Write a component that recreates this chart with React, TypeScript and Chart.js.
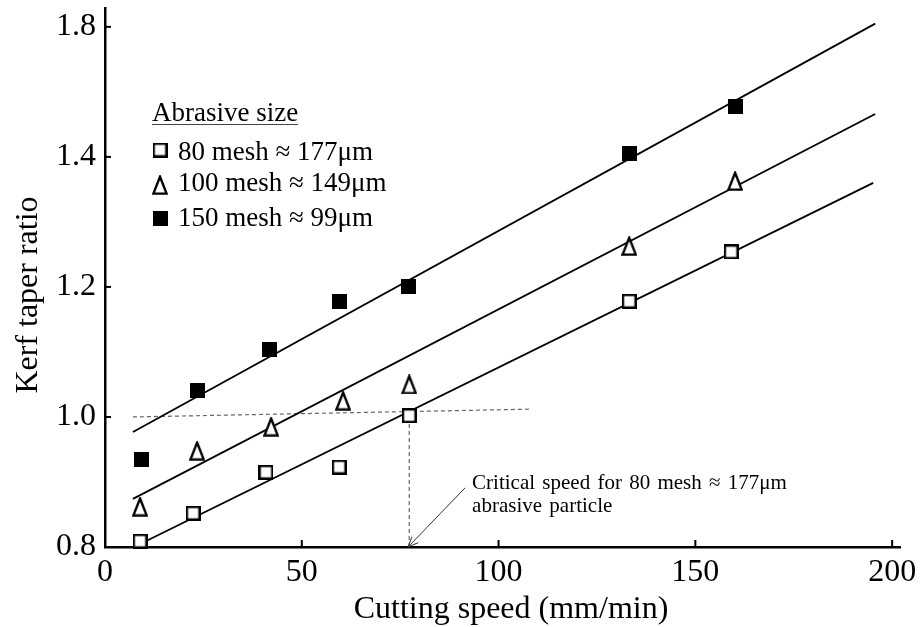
import React, { useEffect, useRef } from "react";
import { Chart, registerables } from "chart.js";

Chart.register(...registerables);

const FONT = "'Liberation Serif', 'Times New Roman', Times, serif";

// ---- data ----
const seriesLabels = ["80 mesh \u2248 177\u03bcm", "100 mesh \u2248 149\u03bcm", "150 mesh \u2248 99\u03bcm"];
const legendTitle = "Abrasive size";

const speed80 = [8.9, 22.4, 40.9, 59.5, 77.3, 133.2, 159.1];
const taper80 = [0.809, 0.852, 0.915, 0.923, 1.002, 1.178, 1.254];
const speed100 = [8.9, 23.4, 42.2, 60.5, 77.3, 133.2, 160.1];
const taper100 = [0.862, 0.948, 0.985, 1.025, 1.05, 1.263, 1.363];
const speed150 = [9.4, 23.4, 41.9, 59.5, 77.0, 133.2, 160.1];
const taper150 = [0.935, 1.04, 1.103, 1.178, 1.2, 1.405, 1.477];

const fit80X = [8.4, 195.2];
const fit80Y = [0.803, 1.36];
const fit100X = [7.1, 195.7];
const fit100Y = [0.874, 1.466];
const fit150X = [7.1, 195.7];
const fit150Y = [0.977, 1.605];

const refLineX = [7.1, 108];
const refLineY = [1.0, 1.012];
const criticalX = [77.3, 77.3];
const criticalY = [1.0, 0.8];
const arrowX = [91.5, 77.0];
const arrowY = [0.891, 0.8];
const noteLines = ["Critical speed for 80 mesh \u2248 177\u03bcm", "abrasive particle"];

const xTickValues = [0, 50, 100, 150, 200];
const xTickLabels = ["0", "50", "100", "150", "200"];
const yTickValues = [0.8, 1.0, 1.2, 1.4, 1.6];
const yTickLabels = ["0.8", "1.0", "1.2", "1.4", "1.8"];
const xTitle = "Cutting speed (mm/min)";
const yTitle = "Kerf taper ratio";

const zip = (xs: number[], ys: number[]) => xs.map((x, i) => ({ x, y: ys[i] }));

function makeMarker(kind: "open" | "filled" | "triangle"): HTMLCanvasElement {
  const c = document.createElement("canvas");
  if (kind === "triangle") {
    c.width = 16;
    c.height = 20;
    const g = c.getContext("2d")!;
    g.beginPath();
    g.moveTo(8, 1.8);
    g.lineTo(14.6, 18.6);
    g.lineTo(1.4, 18.6);
    g.closePath();
    g.fillStyle = "#fff";
    g.fill();
    g.lineWidth = 2.4;
    g.lineJoin = "miter";
    g.strokeStyle = "#000";
    g.stroke();
  } else if (kind === "open") {
    c.width = 15;
    c.height = 15;
    const g = c.getContext("2d")!;
    g.fillStyle = "#fff";
    g.fillRect(1, 1, 13, 13);
    g.lineWidth = 2.4;
    g.strokeStyle = "#000";
    g.strokeRect(1.2, 1.2, 12.6, 12.6);
  } else {
    c.width = 15;
    c.height = 15;
    const g = c.getContext("2d")!;
    g.fillStyle = "#000";
    g.fillRect(0, 0, 15, 15);
  }
  return c;
}

export default function App() {
  const ref = useRef<HTMLCanvasElement>(null);

  useEffect(() => {
    document.body.style.margin = "0";
    const markers = [makeMarker("open"), makeMarker("triangle"), makeMarker("filled")];

    const decor = {
      id: "decor",
      afterDraw(chart: any) {
        const ctx = chart.ctx as CanvasRenderingContext2D;
        const xs = chart.scales.x;
        const ys = chart.scales.y;
        const ca = chart.chartArea;
        ctx.save();
        // inward tick marks
        ctx.strokeStyle = "#000";
        ctx.lineWidth = 2;
        xTickValues.forEach((v) => {
          const px = xs.getPixelForValue(v);
          ctx.beginPath();
          ctx.moveTo(px, ca.bottom);
          ctx.lineTo(px, ca.bottom - 7);
          ctx.stroke();
        });
        yTickValues.forEach((v) => {
          const py = ys.getPixelForValue(v);
          ctx.beginPath();
          ctx.moveTo(ca.left, py);
          ctx.lineTo(ca.left + 6, py);
          ctx.stroke();
        });
        // axis titles
        ctx.fillStyle = "#000";
        ctx.font = `32px ${FONT}`;
        ctx.textAlign = "center";
        ctx.textBaseline = "alphabetic";
        ctx.fillText(xTitle, ca.left + 406, ca.bottom + 71);
        ctx.save();
        ctx.translate(ca.left - 68, ca.top + 287);
        ctx.rotate(-Math.PI / 2);
        ctx.fillText(yTitle, 0, 0);
        ctx.restore();
        // arrow
        const tx = xs.getPixelForValue(arrowX[0]);
        const ty = ys.getPixelForValue(arrowY[0]);
        const hx = xs.getPixelForValue(arrowX[1]);
        const hy = ys.getPixelForValue(arrowY[1]);
        ctx.strokeStyle = "#333";
        ctx.lineWidth = 1;
        ctx.beginPath();
        ctx.moveTo(tx, ty);
        ctx.lineTo(hx, hy);
        const ang = Math.atan2(hy - ty, hx - tx);
        const L = 11;
        ctx.moveTo(hx - L * Math.cos(ang - 0.4), hy - L * Math.sin(ang - 0.4));
        ctx.lineTo(hx, hy);
        ctx.lineTo(hx - L * Math.cos(ang + 0.4), hy - L * Math.sin(ang + 0.4));
        ctx.stroke();
        // note text
        ctx.textAlign = "left";
        ctx.font = `21px ${FONT}`;
        (ctx as any).wordSpacing = "2px";
        noteLines.forEach((t, i) => ctx.fillText(t, tx + 7, ty + 1 + i * 23));
        (ctx as any).wordSpacing = "0px";
        // legend
        ctx.font = `27px ${FONT}`;
        const lx = ca.left + 47;
        const tyb = ca.top + 113;
        ctx.fillText(legendTitle, lx, tyb);
        const w = ctx.measureText(legendTitle).width;
        ctx.strokeStyle = "#444";
        ctx.lineWidth = 1;
        ctx.beginPath();
        ctx.moveTo(lx, tyb + 3.5);
        ctx.lineTo(lx + w, tyb + 3.5);
        ctx.stroke();
        const markerY = [142, 177, 210];
        const textY = [152, 183, 218];
        seriesLabels.forEach((lab, i) => {
          const m = markers[i];
          ctx.drawImage(m, ca.left + 55 - m.width / 2, ca.top + markerY[i] - m.height / 2);
          ctx.fillText(lab, ca.left + 73, ca.top + textY[i]);
        });
        ctx.restore();
      },
    };

    const pointDs = (label: string, xs: number[], ys: number[], m: HTMLCanvasElement) => ({
      label,
      data: zip(xs, ys),
      showLine: false,
      pointStyle: m,
      pointRadius: 7,
      borderColor: "#000",
      backgroundColor: "#000",
      clip: false,
    });
    const lineDs = (label: string, xs: number[], ys: number[], color: string, width: number, dash: number[]) => ({
      label,
      data: zip(xs, ys),
      showLine: true,
      pointRadius: 0,
      borderColor: color,
      borderWidth: width,
      borderDash: dash,
      fill: false,
      clip: false,
    });

    const chart = new Chart(ref.current!, {
      type: "scatter",
      data: {
        datasets: [
          pointDs(seriesLabels[0], speed80, taper80, markers[0]),
          pointDs(seriesLabels[1], speed100, taper100, markers[1]),
          pointDs(seriesLabels[2], speed150, taper150, markers[2]),
          lineDs("fit80", fit80X, fit80Y, "#000", 1.8, []),
          lineDs("fit100", fit100X, fit100Y, "#000", 1.8, []),
          lineDs("fit150", fit150X, fit150Y, "#000", 1.8, []),
          lineDs("ref", refLineX, refLineY, "#666", 1.2, [4, 3]),
          lineDs("critical", criticalX, criticalY, "#666", 1.2, [4, 3]),
        ] as any,
      },
      options: {
        responsive: false,
        animation: false,
        devicePixelRatio: 1,
        events: [],
        layout: { padding: { top: 8, right: 20, bottom: 0, left: 0 } },
        plugins: { legend: { display: false }, tooltip: { enabled: false } },
        scales: {
          x: {
            type: "linear",
            min: 0,
            max: 202,
            afterBuildTicks: (s: any) => {
              s.ticks = xTickValues.map((v) => ({ value: v }));
            },
            afterFit: (s: any) => {
              s.height = 80;
              s.paddingLeft = 0;
              s.paddingRight = 0;
              s.paddingTop = 0;
              s.paddingBottom = 0;
            },
            grid: { display: false, drawTicks: false },
            border: { display: true, color: "#000", width: 2.5 },
            ticks: {
              color: "#000",
              font: { family: FONT, size: 32, lineHeight: 1 },
              padding: 10,
              maxRotation: 0,
              autoSkip: false,
              callback: (_v: any, i: number) => xTickLabels[i],
            },
            title: { display: false },
          },
          y: {
            type: "linear",
            min: 0.8,
            max: 1.629,
            afterBuildTicks: (s: any) => {
              s.ticks = yTickValues.map((v) => ({ value: v }));
            },
            afterFit: (s: any) => {
              s.width = 105;
              s.paddingLeft = 0;
              s.paddingRight = 0;
              s.paddingTop = 0;
              s.paddingBottom = 0;
            },
            grid: { display: false, drawTicks: false },
            border: { display: true, color: "#000", width: 2.5 },
            ticks: {
              color: "#000",
              font: { family: FONT, size: 32, lineHeight: 1 },
              padding: 9,
              autoSkip: false,
              callback: (_v: any, i: number) => yTickLabels[i],
            },
            title: { display: false },
          },
        },
      } as any,
      plugins: [decor],
    });
    return () => chart.destroy();
  }, []);

  return (
    <div style={{ width: 920, height: 627, background: "#fff" }}>
      <canvas ref={ref} width={920} height={627} style={{ display: "block", width: 920, height: 627 }} />
    </div>
  );
}
